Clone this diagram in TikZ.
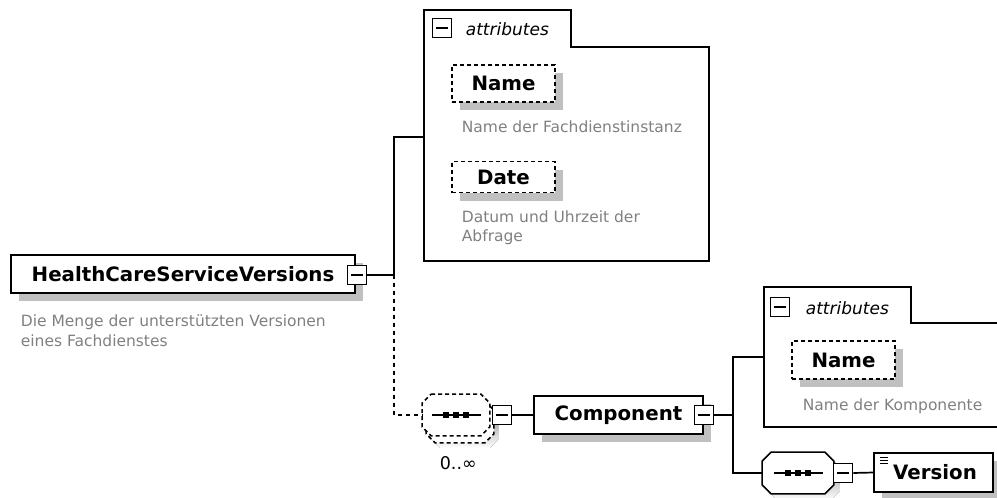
\documentclass[tikz,border=0pt]{standalone}
\usepackage{fontspec}
\setmainfont{DejaVu Sans}
\usetikzlibrary{shadows}

\definecolor{shade}{RGB}{192,192,192}
\definecolor{desc}{RGB}{128,128,128}

% octagon outline around a (borderless) node, chamfer 9pt
\newcommand\octpath[1]{([xshift=9pt]#1.north west) -- ([xshift=-9pt]#1.north east)
  -- ([yshift=-9pt]#1.north east) -- ([yshift=9pt]#1.south east)
  -- ([xshift=-9pt]#1.south east) -- ([xshift=9pt]#1.south west)
  -- ([yshift=9pt]#1.south west) -- ([yshift=-9pt]#1.north west) -- cycle}
% "sequence" glyph: a bar with three dots
\newcommand\seqglyph[1]{%
  \draw[solid, line width=1.5pt] ([xshift=-24.5pt]#1.center) -- ([xshift=24.5pt]#1.center);
  \foreach \dx in {-10,0,10}
    \fill ([xshift=\dx pt]#1.center) +(-2.9,-2.9) rectangle +(2.9,2.9);}

\begin{document}
\begin{tikzpicture}[x=1pt,y=-1pt,line width=1.7pt,
  elem/.style={draw, fill=white, rectangle, inner sep=0pt,
    font=\fontsize{19.8}{22}\selectfont\bfseries,
    general shadow={fill=shade, shadow xshift=8pt, shadow yshift=-8pt}},
  optelem/.style={elem, dash pattern=on 4pt off 3pt},
  descline/.style={anchor=base west, inner sep=0pt, text=desc,
    font=\fontsize{15.5}{19}\selectfont},
  minusbox/.style={draw, fill=white, rectangle, inner sep=0pt,
    minimum width=19pt, minimum height=19pt, line width=1.6pt,
    path picture={\draw[solid, line width=1.4pt]
      ([xshift=3.5pt]path picture bounding box.west) --
      ([xshift=-3.5pt]path picture bounding box.east);}},
  seqarea/.style={rectangle, inner sep=0pt, minimum width=#1, minimum height=40pt},
  seqline/.style={draw, fill=white, line width=1.6pt},
  conn/.style={line width=1.7pt},
  optconn/.style={conn, dash pattern=on 4pt off 4pt},
  attrbox/.style={draw, line width=1.7pt},
  tablabel/.style={anchor=west, inner sep=0pt,
    font=\fontsize{17}{20}\selectfont\itshape}
]
\useasboundingbox (0,0) rectangle (997,498);
\clip (0,0) rectangle (997,498);

% attribute groups
\draw[attrbox] (424,261) -- (424,10) -- (571,10) -- (571,47) -- (709,47) -- (709,261) -- cycle;
\draw[attrbox] (1005,427) -- (764,427) -- (764,287) -- (911,287) -- (911,323) -- (1005,323);
\node[minusbox] (tab1m) at (442,28) {};
\node[tablabel] (tab1l) at (465,29) {attributes};
\node[minusbox] (tab2m) at (780,307) {};
\node[tablabel] (tab2l) at (805,308) {attributes};

\coordinate (a1w) at (424,137);
\coordinate (a2w) at (764,357);
\coordinate (tapA) at (394,137);
\coordinate (tapB) at (733,357);

% root element
\node[elem, minimum width=344pt, minimum height=38pt] (hcsv) at (183,274) {HealthCareServiceVersions};
\node[minusbox] (hcsvm) at (357,275) {};
\node[descline] (hcsvd1) at (20,326) {Die Menge der unterstützten Versionen};
\node[descline] (hcsvd2) at (20,346) {eines Fachdienstes};

% attributes of the root
\node[optelem, minimum width=103pt, minimum height=37pt] (name1) at (503.5,83.5) {Name};
\node[descline] (name1d) at (461,132) {Name der Fachdienstinstanz};
\node[optelem, minimum width=103pt, minimum height=31pt] (date1) at (503.5,177) {Date};
\node[descline] (date1d1) at (461,222) {Datum und Uhrzeit der};
\node[descline] (date1d2) at (461,241) {Abfrage};

% optional, repeated sequence (stacked outlines)
\node[seqarea=66pt] (seq1b) at (460,422) {};
\node[seqarea=66pt] (seq1) at (456,415) {};
\fill[shade, transform canvas={shift={(5pt,-5pt)}}] \octpath{seq1b};
\path[seqline, dash pattern=on 4pt off 3pt] \octpath{seq1b};
\path[seqline, dash pattern=on 4pt off 3pt] \octpath{seq1};
\seqglyph{seq1}
\node[minusbox] (seq1m) at (502,415) {};
\node[anchor=base west, inner sep=0pt, font=\fontsize{17.5}{20}\selectfont] (card) at (439,469) {0..∞};

% Component element
\node[elem, minimum width=169pt, minimum height=38pt] (comp) at (618.5,415) {Component};
\node[minusbox] (compm) at (704,415) {};

\node[optelem, minimum width=103pt, minimum height=38pt] (name2) at (843.5,360) {Name};
\node[descline] (name2d) at (802,410) {Name der Komponente};

% sequence inside Component
\node[seqarea=70pt] (seq2) at (798,473) {};
\fill[shade, transform canvas={shift={(6pt,-6pt)}}] \octpath{seq2};
\path[seqline] \octpath{seq2};
\seqglyph{seq2}
\node[minusbox] (seq2m) at (843,473) {};
\node[elem, minimum width=119pt, minimum height=39pt,
  path picture={\foreach \dy in {4,7,10}
    \draw[line width=1pt] ([shift={(6,\dy)}]path picture bounding box.north west) -- ++(8,0);}]
  (ver) at (933.5,472.5) {\hspace*{3pt}Version};

% connectors
\draw[conn] (hcsvm.east) -| (tapA) -- (a1w);
\draw[optconn] (tapA |- hcsvm.east) |- (seq1.west);
\draw[conn] (seq1m.east) -- (comp.west);
\draw[conn] (compm.east) -| (tapB) -- (a2w);
\draw[conn] (tapB |- compm.east) |- (seq2.west);
\draw[conn] (seq2m.east) -- (ver.west);
\end{tikzpicture}
\end{document}
